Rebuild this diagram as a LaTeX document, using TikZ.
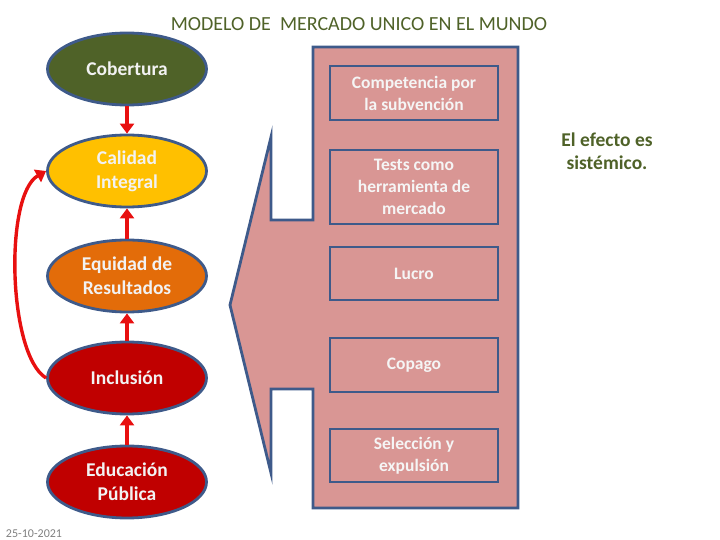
\documentclass[tikz,border=0pt]{standalone}
\usepackage{fontspec}
\setmainfont{Carlito}
\usetikzlibrary{shapes.geometric,arrows.meta}
\definecolor{olive}{HTML}{4F6228}
\definecolor{gold}{HTML}{FFC000}
\definecolor{orng}{HTML}{E36C09}
\definecolor{dred}{HTML}{C00000}
\definecolor{bord}{HTML}{3E5A8A}
\definecolor{rose}{HTML}{D99694}
\definecolor{arr}{HTML}{E81010}
\tikzset{
  ell/.style={ellipse, draw=bord, line width=2.8pt, minimum width=159pt, minimum height=72pt, inner sep=0pt, text=white!95!black, font=\fontsize{19.5}{24}\selectfont\bfseries, align=center},
  ibox/.style={rectangle, draw=bord, line width=2.8pt, minimum width=168pt, inner sep=0pt, text=white!96!black, font=\fontsize{17.5}{22}\selectfont\bfseries, align=center},
  upar/.style={-{Triangle[length=10pt,width=14pt]}, draw=arr, line width=3.4pt},
}
\begin{document}
\begin{tikzpicture}[x=1pt,y=-1pt]
\useasboundingbox (0,0) rectangle (720,540);
% title
\node[text=olive, font=\fontsize{20}{24}\selectfont] (title) at (359,24) {MODELO DE\ \ MERCADO UNICO EN EL MUNDO};
% big callout shape
\draw[fill=rose, draw=bord, line width=2.8pt, line join=miter] (313,47) -- (518,47) -- (518,508) -- (313,508) -- (313,389) -- (271,389) -- (271,473) -- (230,305) -- (271,137) -- (271,220) -- (313,220) -- cycle;
% inner boxes
\node[ibox, minimum height=54pt] (b1) at (414,93) {Competencia por\\la subvención};
\node[ibox, minimum height=74pt] (b2) at (414,187) {Tests como\\herramienta de\\mercado};
\node[ibox, minimum height=53pt] (b3) at (414,273.5) {Lucro};
\node[ibox, minimum height=54pt] (b4) at (414,365) {Copago};
\node[ibox, minimum height=53pt] (b5) at (414,455.5) {Selección y\\expulsión};
% ellipses
\node[ell, fill=olive] (e1) at (127,69) {Cobertura};
\node[ell, fill=gold] (e2) at (127,171) {Calidad\\Integral};
\node[ell, fill=orng] (e3) at (127,276) {Equidad de\\Resultados};
\node[ell, fill=dred] (e4) at (127,378) {Inclusión};
\node[ell, fill=dred] (e5) at (127,482) {Educación\\Pública};
% arrows
\draw[upar] (e1.south) -- (e2.north);
\draw[upar] (e3.north) -- (e2.south);
\draw[upar] (e4.north) -- (e3.south);
\draw[upar] (e5.north) -- (e4.south);
\draw[upar] (e4.west) .. controls (8,355) and (4,195) .. (e2.west);
% right text
\node[text=olive, font=\fontsize{19.5}{23}\selectfont\bfseries, align=center] (fx) at (607,151) {El efecto es\\sistémico.};
% date
\node[text=gray, font=\fontsize{12}{14}\selectfont] (date) at (34,534) {25-10-2021};
\end{tikzpicture}
\end{document}
